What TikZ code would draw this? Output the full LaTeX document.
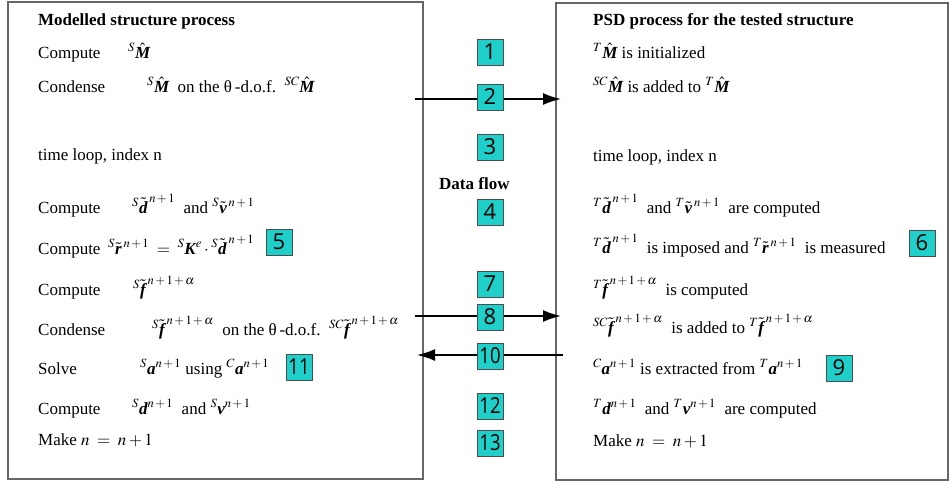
\documentclass[tikz,border=0pt]{standalone}
\usepackage{amsmath}
\usepackage{mathptmx}
\usepackage{fontspec}
\setmainfont{Liberation Serif}
\newfontfamily\numfont{Open Sans}
\usetikzlibrary{arrows.meta}
\definecolor{numfill}{RGB}{31,207,201}
\newcommand{\bv}[1]{\text{\bfseries\itshape #1}}
\newcommand{\tv}[1]{\tilde{\bv{#1}}\,}
\newcommand{\ps}[2]{{}^{#1}{#2}}
\newcommand{\np}{n\,{+}\,1}
\newcommand{\npa}{n\,{+}\,1\,{+}\,\alpha}
\newcommand{\sq}[1]{\scalebox{0.84}[1]{#1}}
\tikzset{
  frame/.style={draw=black!60, line width=1.6pt},
  flow/.style={line width=1.8pt, -{Latex[length=18pt,width=12pt]}},
  numbox/.style={draw=black!70, fill=numfill, line width=0.8pt, minimum width=26pt, minimum height=26pt, inner sep=0.5pt, font=\numfont\fontsize{22}{22}\selectfont},
  txt/.style={anchor=base west, inner sep=0pt, font=\fontsize{17}{20}\selectfont}
}
\begin{document}
\begin{tikzpicture}[x=1pt, y=-1pt]
\useasboundingbox (0,0) rectangle (951,483);
\draw[frame] (8,2) rectangle (423,479);
\draw[frame] (556,3) rectangle (948,480);
% modelled structure
\node[txt] (l0) at (38,25) {\textbf{Modelled structure process}};
\node[txt] (l1) at (38,58) {\makebox[90pt][l]{Compute}$\ps{S}{\hat{\bv{M}}}$};
\node[txt] (l2) at (38,92) {\makebox[109pt][l]{Condense}$\ps{S}{\hat{\bv{M}}}$\enspace on the θ\,-d.o.f.\enspace$\ps{SC}{\hat{\bv{M}}}$};
\node[txt] (l3) at (38,160) {time loop, index n};
\node[txt] (l4) at (38,213) {\makebox[94pt][l]{Compute}$\ps{S}{\tv{d}}^{\np}$\enspace and $\ps{S}{\tv{v}}^{\np}$};
\node[txt] (l5) at (38,254) {\makebox[70pt][l]{Compute}$\ps{S}{\tv{r}}^{\np}\;=\;\ps{S}{\bv{K}}^{e}\cdot\ps{S}{\tv{d}}^{\np}$};
\node[txt] (l6) at (38,295) {\makebox[95pt][l]{Compute}$\ps{S}{\tv{f}}^{\npa}$};
\node[txt] (l7) at (38,335) {\makebox[114pt][l]{Condense}$\ps{S}{\tv{f}}^{\npa}$\enspace on the θ\,-d.o.f.\enspace$\ps{SC}{\tv{f}}^{\npa}$};
\node[txt] (l8) at (38,374) {\makebox[102pt][l]{Solve}$\ps{S}{\bv{a}}^{\np}$ using $\ps{C}{\bv{a}}^{\np}$};
\node[txt] (l9) at (38,414) {\makebox[94pt][l]{Compute}$\ps{S}{\bv{d}}^{\np}$\enspace and $\ps{S}{\bv{v}}^{\np}$};
\node[txt] (l10) at (38,445) {Make $n\;=\;n+1$};
% tested structure
\node[txt] (r0) at (593,25) {\textbf{PSD process for the tested structure}};
\node[txt] (r1) at (593,58) {$\ps{T}{\hat{\bv{M}}}$ is initialized};
\node[txt] (r2) at (593,92) {$\ps{SC}{\hat{\bv{M}}}$ is added to $\ps{T}{\hat{\bv{M}}}$};
\node[txt] (r3) at (593,161) {time loop, index n};
\node[txt] (r4) at (593,213) {$\ps{T}{\tv{d}}^{\np}$\enspace and $\ps{T}{\tv{v}}^{\np}$\enspace are computed};
\node[txt] (r5) at (593,253) {$\ps{T}{\tv{d}}^{\np}$\enspace is imposed and $\ps{T}{\tv{r}}^{\np}$\enspace is measured};
\node[txt] (r6) at (593,295) {$\ps{T}{\tv{f}}^{\npa}$\enspace is computed};
\node[txt] (r7) at (593,333) {$\ps{SC}{\tv{f}}^{\npa}$\enspace is added to $\ps{T}{\tv{f}}^{\npa}$};
\node[txt] (r8) at (593,374) {$\ps{C}{\bv{a}}^{\np}$ is extracted from $\ps{T}{\bv{a}}^{\np}$};
\node[txt] (r9) at (593,414) {$\ps{T}{\bv{d}}^{\np}$\enspace and $\ps{T}{\bv{v}}^{\np}$\enspace are computed};
\node[txt] (r10) at (593,446) {Make $n\;=\;n+1$};
% data flow
\node[txt] (df) at (439,189) {\textbf{Data flow}};
\coordinate (a2s) at (415,99);  \coordinate (a2e) at (561,99);
\coordinate (a8s) at (415,316); \coordinate (a8e) at (561,316);
\coordinate (a10s) at (563,355); \coordinate (a10e) at (417,355);
\draw[flow] (a2s) -- (a2e);
\draw[flow] (a8s) -- (a8e);
\draw[flow] (a10s) -- (a10e);
\foreach \n/\y/\t in {1/52/1, 2/97/2, 3/147/3, 4/212/4, 7/284/7, 8/317/8, 10/356/\sq{10}, 12/406/\sq{12}, 13/443/\sq{13}}
{
\node[numbox] (n\n) at (490,\y) {\t};
}
\node[numbox] (n5) at (279,242) {5};
\node[numbox] (n6) at (922,243) {6};
\node[numbox] (n9) at (839,368) {9};
\node[numbox] (n11) at (299,367) {\sq{11}};
\end{tikzpicture}
\end{document}
